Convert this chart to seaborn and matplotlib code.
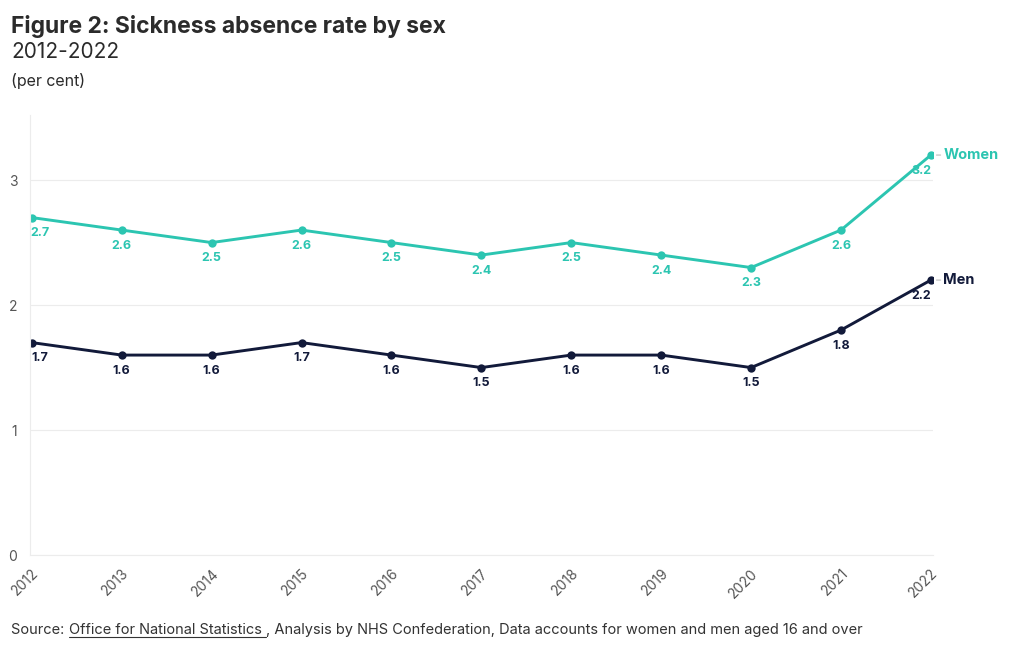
import matplotlib
matplotlib.use("Agg")
import matplotlib.pyplot as plt
import seaborn as sns
import pandas as pd

years = [2012, 2013, 2014, 2015, 2016, 2017, 2018, 2019, 2020, 2021, 2022]
women = [2.7, 2.6, 2.5, 2.6, 2.5, 2.4, 2.5, 2.4, 2.3, 2.6, 3.2]
men = [1.7, 1.6, 1.6, 1.7, 1.6, 1.5, 1.6, 1.6, 1.5, 1.8, 2.2]
series_names = ["Women", "Men"]
y_ticks = [0, 1, 2, 3]

TEAL = "#2CC5B1"
NAVY = "#121A3A"
FONT = ["Inter", "DejaVu Sans"]

sns.set_theme(style="white")
plt.rcParams["font.family"] = FONT

df = pd.concat([
    pd.DataFrame({"year": years, "value": women, "series": "Women"}),
    pd.DataFrame({"year": years, "value": men, "series": "Men"}),
])

fig = plt.figure(figsize=(10.2, 6.5), dpi=100)
ax = fig.add_axes([0.0294, 0.146, 0.885, 0.677])

palette = {"Women": TEAL, "Men": NAVY}
sns.lineplot(data=df, x="year", y="value", hue="series", palette=palette,
             marker="o", markersize=6, markeredgewidth=0, linewidth=2.1,
             legend=False, ax=ax)

ax.set_xlim(years[0] - 0.02, years[-1] + 0.02)
ax.set_ylim(0, 3.52)
ax.set_yticks(y_ticks)
ax.set_xticks(years)
ax.set_xticklabels([str(y) for y in years], rotation=45, ha="right",
                   rotation_mode="anchor", fontsize=10, color="#555555")
ax.set_yticklabels([str(t) for t in y_ticks], fontsize=10, color="#555555")
ax.tick_params(axis="x", length=4, color="#dddddd", pad=4)
ax.tick_params(axis="y", length=0, pad=9)
ax.set_xlabel("")
ax.set_ylabel("")
ax.grid(axis="y", color="#ececec", linewidth=0.8)
ax.grid(axis="x", visible=False)
for s in ["top", "right"]:
    ax.spines[s].set_visible(False)
ax.spines["left"].set_color("#ececec")
ax.spines["left"].set_linewidth(0.8)
ax.spines["bottom"].set_color("#ececec")
ax.spines["bottom"].set_linewidth(0.8)

for vals, name in [(women, "Women"), (men, "Men")]:
    col = palette[name]
    for i, (x, v) in enumerate(zip(years, vals)):
        dx = 6 if i == 0 else (-7 if i == len(years) - 1 else 0)
        ax.annotate(f"{v}", (x, v), xytext=(dx, -7),
                    textcoords="offset points", ha="center", va="top",
                    fontsize=9, fontweight="bold", color=col)
    ax.annotate(name, (years[-1], vals[-1]), xytext=(9, 0),
                textcoords="offset points", ha="left", va="center",
                fontsize=10.5, fontweight="bold", color=col, annotation_clip=False)
    ax.annotate("", (years[-1], vals[-1]), xytext=(7, 0), textcoords="offset points",
                arrowprops=dict(arrowstyle="-", color="#bbbbbb", lw=0.8,
                                shrinkA=0, shrinkB=4), annotation_clip=False)

fig.text(0.011, 0.95, "Figure 2: Sickness absence rate by sex", fontsize=16.5,
         fontweight="bold", color="#2b2b2b", va="baseline")
fig.text(0.011, 0.91, "2012-2022", fontsize=15, color="#2b2b2b", va="baseline")
fig.text(0.011, 0.868, "(per cent)", fontsize=11.5, color="#2b2b2b", va="baseline")

# Source line with underlined link text
y_src = 0.024
t1 = fig.text(0.011, y_src, "Source: ", fontsize=10.5, color="#333333", va="baseline")
fig.canvas.draw()
r = fig.canvas.get_renderer()
bb1 = t1.get_window_extent(r)
x2 = bb1.x1 / fig.bbox.width
t2 = fig.text(x2, y_src, "Office for National Statistics ", fontsize=10.5,
              color="#333333", va="baseline")
bb2 = t2.get_window_extent(r)
x3 = bb2.x1 / fig.bbox.width
fig.add_artist(plt.Line2D([x2, x3], [y_src - 0.004, y_src - 0.004],
                          transform=fig.transFigure, color="#333333", lw=0.8))
fig.text(x3, y_src, ", Analysis by NHS Confederation, Data accounts for women and men aged 16 and over",
         fontsize=10.5, color="#333333", va="baseline")

fig.savefig("out.png", dpi=100)
